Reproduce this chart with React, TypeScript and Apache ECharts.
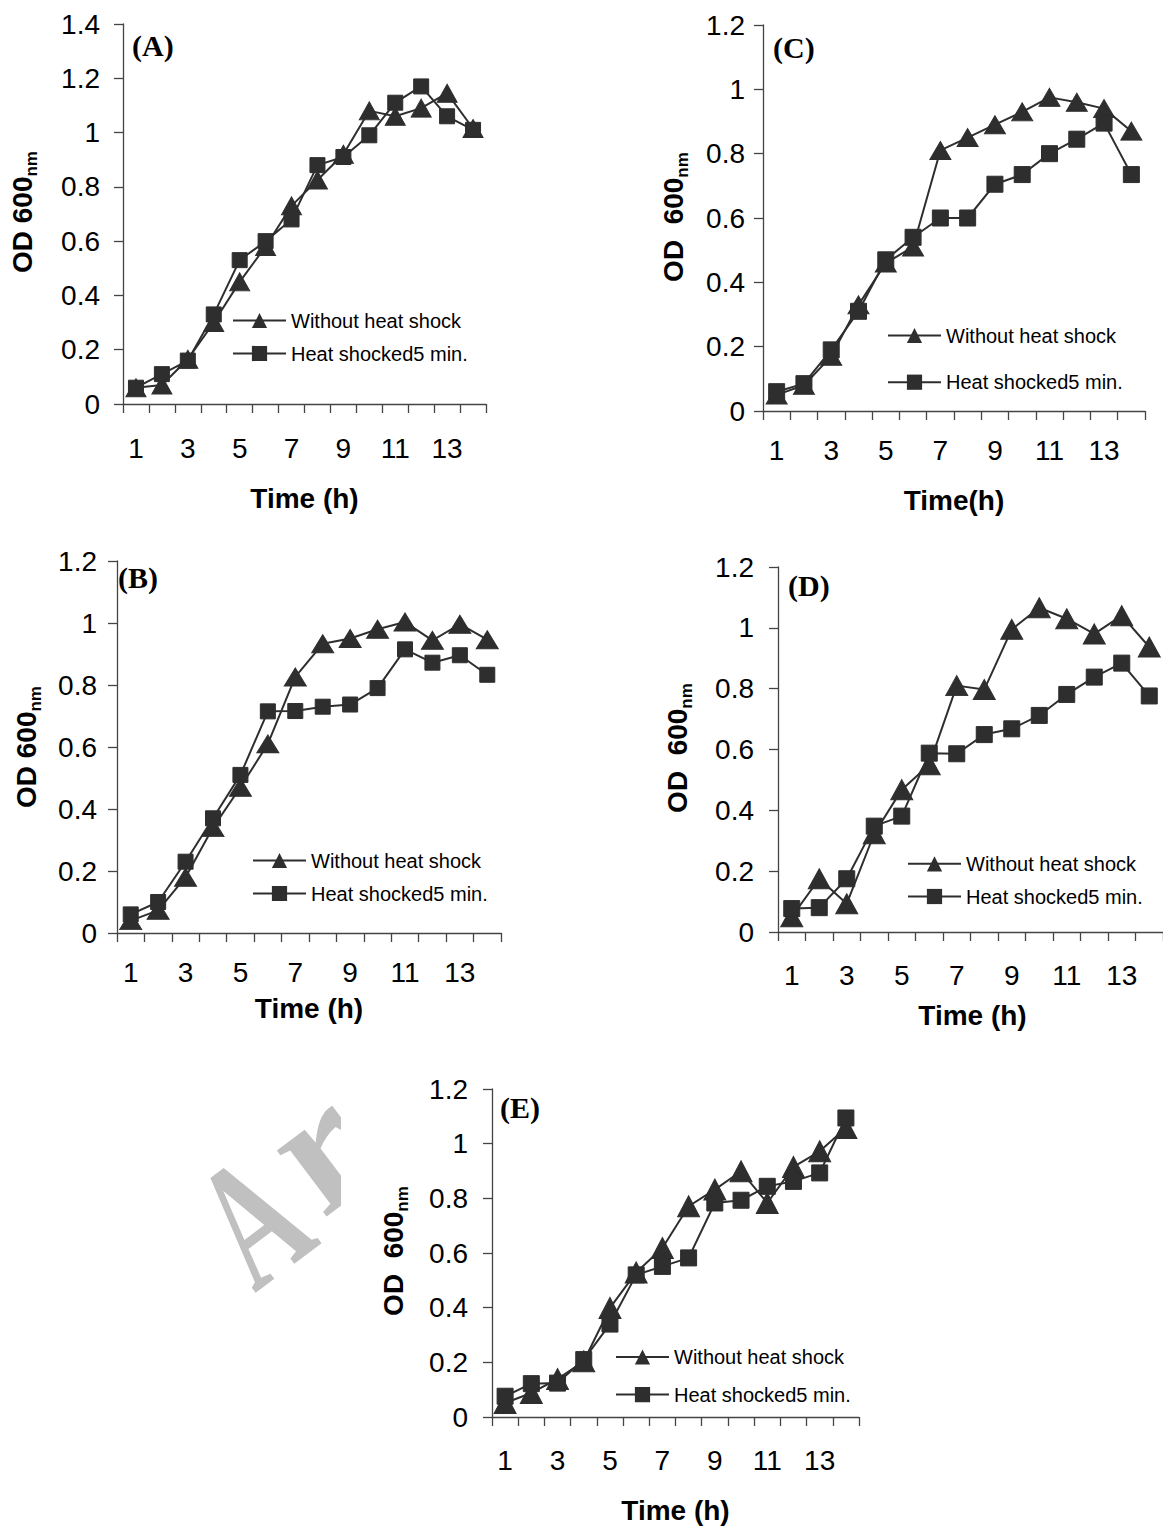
import React, { useEffect, useRef } from 'react';
import * as echarts from 'echarts';

// ---------------- data ----------------
const hours = ['1', '2', '3', '4', '5', '6', '7', '8', '9', '10', '11', '12', '13', '14'];
const seriesNames = ['Without heat shock', 'Heat shocked5 min.'];

const panelA_without = [0.06, 0.07, 0.165, 0.30, 0.45, 0.58, 0.73, 0.825, 0.92, 1.08, 1.06, 1.09, 1.145, 1.015];
const panelA_heat = [0.06, 0.11, 0.16, 0.33, 0.53, 0.60, 0.68, 0.88, 0.91, 0.99, 1.11, 1.17, 1.06, 1.01];

const panelB_without = [0.04, 0.073, 0.18, 0.34, 0.47, 0.61, 0.826, 0.933, 0.95, 0.98, 1.003, 0.944, 0.996, 0.946];
const panelB_heat = [0.06, 0.10, 0.23, 0.37, 0.51, 0.715, 0.716, 0.73, 0.737, 0.79, 0.915, 0.872, 0.896, 0.833];

const panelC_without = [0.05, 0.08, 0.17, 0.33, 0.46, 0.51, 0.81, 0.85, 0.89, 0.93, 0.975, 0.96, 0.94, 0.87];
const panelC_heat = [0.06, 0.085, 0.19, 0.31, 0.47, 0.54, 0.60, 0.60, 0.705, 0.735, 0.80, 0.845, 0.895, 0.735];

const panelD_without = [0.05, 0.175, 0.093, 0.323, 0.468, 0.55, 0.81, 0.797, 0.995, 1.066, 1.03, 0.98, 1.04, 0.937];
const panelD_heat = [0.077, 0.08, 0.175, 0.348, 0.381, 0.588, 0.586, 0.649, 0.668, 0.712, 0.781, 0.838, 0.884, 0.776];

const panelE_without = [0.051, 0.088, 0.139, 0.204, 0.399, 0.529, 0.618, 0.771, 0.832, 0.899, 0.783, 0.915, 0.972, 1.057];
const panelE_heat = [0.076, 0.122, 0.124, 0.21, 0.34, 0.52, 0.551, 0.582, 0.783, 0.793, 0.844, 0.862, 0.893, 1.094];

const yMaxA = 1.4;
const yMaxOther = 1.2;
const yStep = 0.2;

// ---------------- layout / style ----------------
const SANS = '"Liberation Sans", Arial, Helvetica, sans-serif';
const SERIF = '"Liberation Serif", "Times New Roman", serif';
const INK = '#2e2e2e';
const AXIS = '#444';
const TICK_FONT = 28;

const panels = [
  {
    tag: '(A)', xTitle: 'Time (h)', yTitle: 'OD 600', yMax: yMaxA,
    without: panelA_without, heat: panelA_heat,
    left: 123, top: 24, width: 363, height: 380,
    yLabelMargin: 23, xLabelMargin: 30,
    tagX: 132, tagY: 45, xTitleX: 304.5, xTitleY: 498, yTitleX: 22, yTitleY: 212,
    legLeft: 232, legTop: 310.5, legGap: 13,
    tri: [20, 18], sq: 15,
  },
  {
    tag: '(B)', xTitle: 'Time (h)', yTitle: 'OD 600', yMax: yMaxOther,
    without: panelB_without, heat: panelB_heat,
    left: 117, top: 561, width: 384, height: 372,
    yLabelMargin: 20, xLabelMargin: 25,
    tagX: 118, tagY: 577, xTitleX: 309, xTitleY: 1008, yTitleX: 26, yTitleY: 747,
    legLeft: 252, legTop: 850.5, legGap: 13,
    tri: [22, 18], sq: 15,
  },
  {
    tag: '(C)', xTitle: 'Time(h)', yTitle: 'OD  600', yMax: yMaxOther,
    without: panelC_without, heat: panelC_heat,
    left: 763, top: 25, width: 382, height: 386,
    yLabelMargin: 18, xLabelMargin: 25,
    tagX: 773, tagY: 47, xTitleX: 954, xTitleY: 500, yTitleX: 673, yTitleY: 217,
    legLeft: 887, legTop: 325.5, legGap: 26.7,
    tri: [21, 18], sq: 16,
  },
  {
    tag: '(D)', xTitle: 'Time (h)', yTitle: 'OD  600', yMax: yMaxOther,
    without: panelD_without, heat: panelD_heat,
    left: 778, top: 567, width: 389, height: 365,
    yLabelMargin: 24, xLabelMargin: 29,
    tagX: 788, tagY: 585, xTitleX: 972.5, xTitleY: 1015, yTitleX: 677, yTitleY: 748,
    legLeft: 907, legTop: 853.8, legGap: 12.7,
    tri: [22, 20], sq: 16,
  },
  {
    tag: '(E)', xTitle: 'Time (h)', yTitle: 'OD  600', yMax: yMaxOther,
    without: panelE_without, heat: panelE_heat,
    left: 492, top: 1089, width: 367, height: 328,
    yLabelMargin: 24, xLabelMargin: 29,
    tagX: 500, tagY: 1107, xTitleX: 675.5, xTitleY: 1510, yTitleX: 393, yTitleY: 1251,
    legLeft: 615, legTop: 1347, legGap: 17.6,
    tri: [22, 21], sq: 16,
  },
];

function buildOption() {
  const grid = panels.map((p) => ({
    left: p.left, top: p.top, width: p.width, height: p.height, containLabel: false,
  }));

  const xAxis = panels.map((p, i) => ({
    gridIndex: i,
    type: 'category',
    data: hours,
    boundaryGap: true,
    axisLine: { show: true, onZero: true, lineStyle: { color: AXIS, width: 1.3 } },
    axisTick: { show: true, interval: 0, length: 9, lineStyle: { color: AXIS, width: 1.3 } },
    axisLabel: {
      interval: 1, margin: p.xLabelMargin, fontSize: TICK_FONT, color: '#000', fontFamily: SANS,
    },
    splitLine: { show: false },
  }));

  const yAxis = panels.map((p, i) => ({
    gridIndex: i,
    type: 'value',
    min: 0,
    max: p.yMax,
    interval: yStep,
    axisLine: { show: true, lineStyle: { color: AXIS, width: 1.3 } },
    axisTick: { show: true, length: 9, lineStyle: { color: AXIS, width: 1.3 } },
    axisLabel: { margin: p.yLabelMargin, fontSize: TICK_FONT, color: '#000', fontFamily: SANS },
    splitLine: { show: false },
  }));

  const series: any[] = [];
  panels.forEach((p, i) => {
    series.push({
      name: seriesNames[0],
      type: 'line',
      xAxisIndex: i,
      yAxisIndex: i,
      data: p.without,
      symbol: 'triangle',
      symbolSize: p.tri,
      showAllSymbol: true,
      lineStyle: { color: INK, width: 2 },
      itemStyle: { color: INK, borderColor: INK },
      z: 2,
    });
    series.push({
      name: seriesNames[1],
      type: 'line',
      xAxisIndex: i,
      yAxisIndex: i,
      data: p.heat,
      symbol: 'rect',
      symbolSize: p.sq,
      showAllSymbol: true,
      lineStyle: { color: INK, width: 2 },
      itemStyle: { color: INK, borderColor: INK },
      z: 3,
    });
  });

  const legend = panels.map((p) => ({
    orient: 'vertical',
    left: p.legLeft,
    top: p.legTop,
    padding: 0,
    itemWidth: 53,
    itemHeight: 19,
    itemGap: p.legGap,
    selectedMode: false,
    data: seriesNames,
    textStyle: { fontSize: 20, color: '#000', fontFamily: SANS, lineHeight: 19 },
  }));

  const graphicEls: any[] = [];

  // faint watermark fragment ("Ar") behind panel E, partly hidden by the panel's white background
  const wmRot = (37 * Math.PI) / 180;
  graphicEls.push({
    type: 'text',
    x: 255,
    y: 1294,
    rotation: wmRot,
    scaleX: 0.65,
    z: -2,
    silent: true,
    style: {
      text: 'A',
      x: 0,
      y: -61,
      fill: '#c0c0c0',
      font: `bold 180px ${SERIF}`,
      textAlign: 'left',
      textVerticalAlign: 'middle',
    },
  });
  graphicEls.push({
    type: 'text',
    x: 323,
    y: 1220,
    rotation: wmRot,
    z: -2,
    silent: true,
    style: {
      text: 'r',
      x: 0,
      y: -61,
      fill: '#c0c0c0',
      font: `bold 180px ${SERIF}`,
      textAlign: 'left',
      textVerticalAlign: 'middle',
    },
  });
  graphicEls.push({
    type: 'rect',
    z: -1,
    silent: true,
    shape: { x: 341, y: 1060, width: 140, height: 280 },
    style: { fill: '#ffffff' },
  });

  panels.forEach((p) => {
    graphicEls.push({
      type: 'text',
      x: p.tagX,
      y: p.tagY,
      style: {
        text: p.tag,
        fill: '#000',
        font: `bold 30px ${SERIF}`,
        textAlign: 'left',
        textVerticalAlign: 'middle',
      },
    });
    graphicEls.push({
      type: 'text',
      x: p.xTitleX,
      y: p.xTitleY,
      style: {
        text: p.xTitle,
        fill: '#000',
        font: `bold 28px ${SANS}`,
        textAlign: 'center',
        textVerticalAlign: 'middle',
      },
    });
    graphicEls.push({
      type: 'text',
      x: p.yTitleX,
      y: p.yTitleY,
      rotation: Math.PI / 2,
      style: {
        text: `{a|${p.yTitle}}{b|nm}`,
        fill: '#000',
        textAlign: 'center',
        textVerticalAlign: 'middle',
        rich: {
          a: { fontSize: 28, fontWeight: 'bold', fontFamily: SANS, lineHeight: 35, fill: '#000' },
          b: { fontSize: 17, fontWeight: 'bold', fontFamily: SANS, lineHeight: 17, verticalAlign: 'bottom', fill: '#000' },
        },
      },
    });
  });

  return {
    animation: false,
    backgroundColor: '#ffffff',
    grid,
    xAxis,
    yAxis,
    legend,
    series,
    graphic: { elements: graphicEls },
  };
}

export default function App() {
  const ref = useRef<HTMLDivElement>(null);

  useEffect(() => {
    if (!ref.current) return;
    const chart = echarts.init(ref.current, undefined, { renderer: 'svg' });
    chart.setOption(buildOption() as any);
    return () => {
      chart.dispose();
    };
  }, []);

  return (
    <div
      ref={ref}
      style={{ position: 'absolute', left: 0, top: 0, width: 1163, height: 1526, background: '#fff' }}
    />
  );
}
